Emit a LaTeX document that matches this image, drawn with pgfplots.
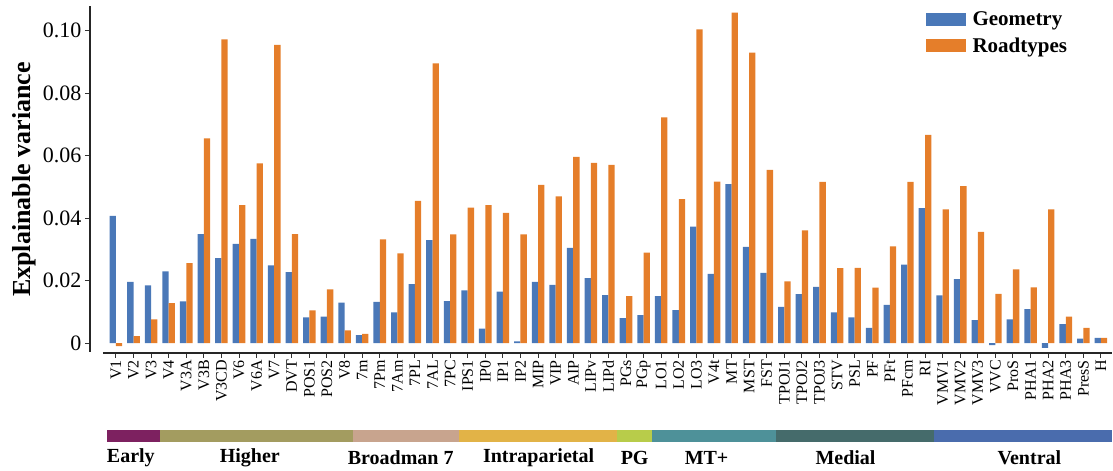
\documentclass[border=0pt]{standalone}
\usepackage{pgfplots}
\usepackage{pgfplotstable}
\pgfplotsset{compat=1.18}
\usepackage{fontspec}
\setmainfont{Liberation Serif}
\definecolor{geo}{HTML}{4A78B8}
\definecolor{road}{HTML}{E57E2A}
\definecolor{cEarly}{HTML}{7D2160}
\definecolor{cHigher}{HTML}{A39C60}
\definecolor{cBroad}{HTML}{C8A48E}
\definecolor{cIntra}{HTML}{E2B347}
\definecolor{cPG}{HTML}{B8CC4A}
\definecolor{cMT}{HTML}{4E9199}
\definecolor{cMedial}{HTML}{456B6B}
\definecolor{cVentral}{HTML}{4A6CAD}
\pgfplotstableread{
idx geo road
0 0.0407 -0.0009
1 0.0196 0.0023
2 0.0185 0.0076
3 0.0230 0.0128
4 0.0134 0.0256
5 0.0349 0.0655
6 0.0272 0.0972
7 0.0318 0.0442
8 0.0334 0.0575
9 0.0249 0.0954
10 0.0227 0.0349
11 0.0083 0.0105
12 0.0085 0.0172
13 0.0130 0.0041
14 0.0026 0.0030
15 0.0132 0.0332
16 0.0099 0.0287
17 0.0189 0.0455
18 0.0330 0.0895
19 0.0135 0.0348
20 0.0169 0.0434
21 0.0047 0.0442
22 0.0165 0.0417
23 0.0006 0.0348
24 0.0196 0.0506
25 0.0187 0.0470
26 0.0305 0.0596
27 0.0208 0.0577
28 0.0154 0.0570
29 0.0080 0.0151
30 0.0090 0.0290
31 0.0151 0.0722
32 0.0106 0.0461
33 0.0373 0.1004
34 0.0222 0.0517
35 0.0509 0.1057
36 0.0308 0.0929
37 0.0225 0.0554
38 0.0116 0.0198
39 0.0157 0.0361
40 0.0180 0.0516
41 0.0099 0.0240
42 0.0083 0.0241
43 0.0049 0.0178
44 0.0123 0.0310
45 0.0251 0.0516
46 0.0432 0.0666
47 0.0153 0.0428
48 0.0205 0.0502
49 0.0074 0.0356
50 -0.0006 0.0158
51 0.0076 0.0236
52 0.0109 0.0179
53 -0.0015 0.0428
54 0.0061 0.0085
55 0.0015 0.0049
56 0.0017 0.0017
}\datatable
\begin{document}
\begin{tikzpicture}
\begin{axis}[
  scale only axis, width=1023pt, height=347pt,
  xmin=-1.477, xmax=56.65, ymin=-0.0031, ymax=0.1078,
  clip=false,
  ybar=0pt, bar width=6.3pt,
  axis x line=bottom, axis y line=left,
  axis line style={draw=none},
  xtick={0,...,56},
  xticklabels={V1,V2,V3,V4,V3A,V3B,V3CD,V6,V6A,V7,DVT,POS1,POS2,V8,7m,7Pm,7Am,7PL,7AL,7PC,IPS1,IP0,IP1,IP2,MIP,VIP,AIP,LIPv,LIPd,PGs,PGp,LO1,LO2,LO3,V4t,MT,MST,FST,TPOJ1,TPOJ2,TPOJ3,STV,PSL,PF,PFt,PFcm,RI,VMV1,VMV2,VMV3,VVC,ProS,PHA1,PHA2,PHA3,PresS,H},
  xticklabel style={rotate=90, anchor=east, font=\fontsize{16}{16}\selectfont, inner sep=2pt},
  ytick={0,0.02,0.04,0.06,0.08,0.10},
  yticklabels={0,0.02,0.04,0.06,0.08,0.10},
  yticklabel style={font=\fontsize{22}{22}\selectfont},
  /pgf/number format/assume math mode=true,
  tick align=outside, major tick length=5pt,
  tick style={line width=1pt, color=black!80},
  ylabel={Explainable variance},
  ylabel style={font=\bfseries\fontsize{26}{26}\selectfont, at={(axis description cs:-0.0645,0.5)}, anchor=center},
  legend style={draw=none, fill=none, at={(axis cs:46.02,0.1066)}, anchor=north west,
    font=\bfseries\fontsize{21}{21}\selectfont, inner sep=0pt, row sep=6pt, column sep=5pt,
    nodes={inner sep=2pt}},
  legend cell align=left,
]
\addplot[fill=geo, draw=none, legend image code/.code={\fill[geo] (0pt,-6.5pt) rectangle (40pt,6.5pt);}] table[x=idx, y=geo] {\datatable};
\addlegendentry{Geometry}
\addplot[fill=road, draw=none, legend image code/.code={\fill[road] (0pt,-6.5pt) rectangle (40pt,6.5pt);}] table[x=idx, y=road] {\datatable};
\addlegendentry{Roadtypes}
% axis lines
\draw[line width=1.3pt, black!85] (axis cs:-0.74,-0.0031) -- (axis cs:56.65,-0.0031);
\draw[line width=1.3pt, black!85] (axis cs:-1.477,-0.0028) -- (axis cs:-1.477,0.1078);
% group band
\fill[cEarly] (axis cs:-0.5,-0.02784) rectangle (axis cs:2.5,-0.03168);
\fill[cHigher] (axis cs:2.5,-0.02784) rectangle (axis cs:13.5,-0.03168);
\fill[cBroad] (axis cs:13.5,-0.02784) rectangle (axis cs:19.5,-0.03168);
\fill[cIntra] (axis cs:19.5,-0.02784) rectangle (axis cs:28.5,-0.03168);
\fill[cPG] (axis cs:28.5,-0.02784) rectangle (axis cs:30.5,-0.03168);
\fill[cMT] (axis cs:30.5,-0.02784) rectangle (axis cs:37.5,-0.03168);
\fill[cMedial] (axis cs:37.5,-0.02784) rectangle (axis cs:46.5,-0.03168);
\fill[cVentral] (axis cs:46.5,-0.02784) rectangle (axis cs:56.65,-0.03168);
\begin{scope}[every node/.style={font=\bfseries\fontsize{20}{20}\selectfont, inner sep=0pt}]
\node at (axis cs:0.85,-0.0366) {Early};
\node at (axis cs:7.61,-0.0366) {Higher};
\node at (axis cs:16.19,-0.0366) {Broadman 7};
\node at (axis cs:24.03,-0.0366) {Intraparietal};
\node at (axis cs:29.49,-0.0366) {PG};
\node at (axis cs:33.58,-0.0366) {MT+};
\node at (axis cs:41.48,-0.0366) {Medial};
\node at (axis cs:51.93,-0.0366) {Ventral};
\end{scope}
\path (axis cs:-6.59,0.10976) rectangle (axis cs:56.65,-0.04064);
\end{axis}
\end{tikzpicture}
\end{document}
